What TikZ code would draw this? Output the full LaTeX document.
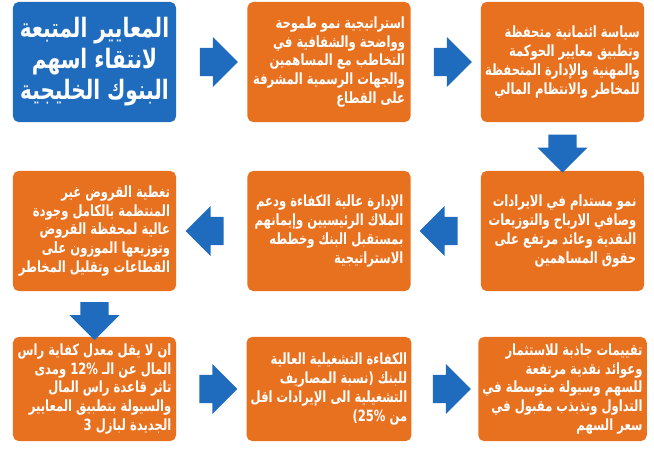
\documentclass[tikz,border=0pt]{standalone}
\usepackage{fontspec}
\usetikzlibrary{shapes.arrows}
\newfontfamily\arabicfont[Script=Arabic, FakeStretch=0.75]{DejaVu Sans}
\TeXXeTstate=1
\definecolor{boxblue}{HTML}{1F6BBE}
\definecolor{boxorange}{HTML}{E8711F}
\newcommand{\rl}[1]{\beginR #1\endR}
\newcommand{\lr}[1]{\beginL #1\endL}
\tikzset{
  stdbox/.style={fill=boxorange, rounded corners=4pt, text=white, minimum width=4.075cm,
    minimum height=3cm, align=right, inner sep=3pt,
    font=\arabicfont\bfseries\fontsize{11}{13.4}\selectfont},
  titlebox/.style={stdbox, fill=boxblue, align=center,
    font=\arabicfont\bfseries\fontsize{19}{22}\selectfont},
  flowarrow/.style={single arrow, fill=boxblue, minimum height=0.95cm, minimum width=1.25cm,
    single arrow head extend=0.25cm, inner xsep=0pt, inner ysep=0.32cm}
}
\begin{document}
\begin{tikzpicture}[x=0.025cm, y=-0.025cm]
  \useasboundingbox (0,0) rectangle (654,450);
  % first row
  \node[titlebox] (sel) at (94.5,62) {\rl{المعايير المتبعة}\\\rl{لانتقاء اسهم}\\\rl{البنوك الخليجية}};
  \node[stdbox] (growth) at (329,62) {\rl{استراتيجية نمو طموحة}\\\rl{وواضحة والشفافية في}\\\rl{التخاطب مع المساهمين}\\\rl{والجهات الرسمية المشرفة}\\\rl{على القطاع}};
  \node[stdbox] (credit) at (562.5,62) {\rl{سياسة ائتمانية متحفظة}\\\rl{وتطبيق معايير الحوكمة}\\\rl{والمهنية والإدارة المتحفظة}\\\rl{للمخاطر والانتظام المالي}};
  % second row
  \node[stdbox] (income) at (562.5,231) {\rl{نمو مستدام في الايرادات}\\\rl{وصافي الارباح والتوزيعات}\\\rl{النقدية وعائد مرتفع على}\\\rl{حقوق المساهمين}};
  \node[stdbox] (mgmt) at (329,231) {\rl{الإدارة عالية الكفاءة ودعم}\\\rl{الملاك الرئيسيين وإيمانهم}\\\rl{بمستقبل البنك وخططه}\\\rl{الاستراتيجية}};
  \node[stdbox] (loans) at (94.5,231) {\rl{تغطية القروض غير}\\\rl{المنتظمة بالكامل وجودة}\\\rl{عالية لمحفظة القروض}\\\rl{وتوزيعها الموزون على}\\\rl{القطاعات وتقليل المخاطر}};
  % third row
  \node[stdbox, minimum height=2.6cm] (capital) at (94.5,389) {\rl{ان لا يقل معدل كفاية راس}\\\rl{المال عن الـ \lr{12\%} ومدى}\\\rl{تاثر قاعدة راس المال}\\\rl{والسيولة بتطبيق المعايير}\\\rl{الجديدة لبازل 3}};
  \node[stdbox, minimum height=2.6cm] (opex) at (329,389) {\rl{الكفاءة التشغيلية العالية}\\\rl{للبنك (نسبة المصاريف}\\\rl{التشغيلية الى الإيرادات اقل}\\\rl{من \lr{25\%})}};
  \node[stdbox, minimum height=2.6cm] (value) at (562.5,389) {\rl{تقييمات جاذبة للاستثمار}\\\rl{وعوائد نقدية مرتفعة}\\\rl{للسهم وسيولة متوسطة في}\\\rl{التداول وتذبذب مقبول في}\\\rl{سعر السهم}};
  % arrows
  \path (sel.east) -- (growth.west) node[midway, flowarrow] (a1) {};
  \path (growth.east) -- (credit.west) node[midway, flowarrow] (a2) {};
  \path (credit.south) -- (income.north) node[midway, flowarrow, rotate=-90] (a3) {};
  \path (income.west) -- (mgmt.east) node[midway, flowarrow, rotate=180] (a4) {};
  \path (mgmt.west) -- (loans.east) node[midway, flowarrow, rotate=180] (a5) {};
  \path (loans.south) -- (capital.north) node[midway, flowarrow, rotate=-90] (a6) {};
  \path (capital.east) -- (opex.west) node[midway, flowarrow] (a7) {};
  \path (opex.east) -- (value.west) node[midway, flowarrow] (a8) {};
\end{tikzpicture}
\end{document}
